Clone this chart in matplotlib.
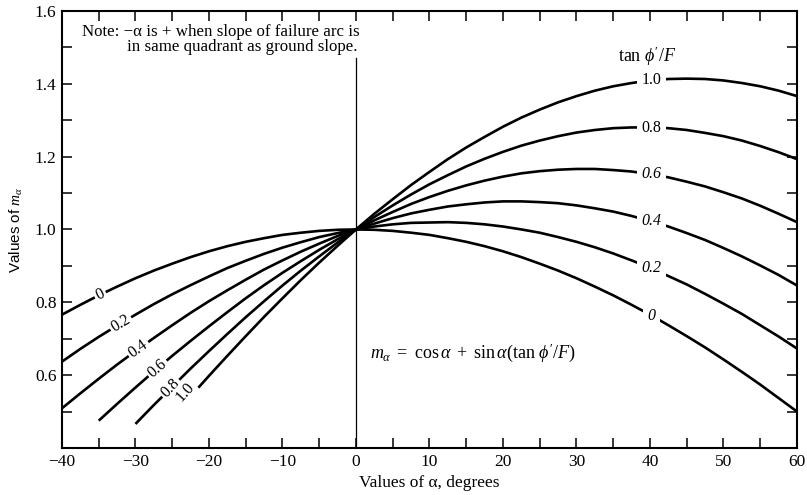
import numpy as np
import matplotlib
matplotlib.use("Agg")
import matplotlib.pyplot as plt

plt.rcParams["font.family"] = ["Liberation Serif", "DejaVu Serif"]
plt.rcParams["mathtext.fontset"] = "custom"
plt.rcParams["mathtext.rm"] = "Liberation Serif"
plt.rcParams["mathtext.it"] = "Liberation Serif:italic"

# values of m_alpha every 2.5 degrees, one list per tan(phi')/F
alpha = [-40, -37.5, -35, -32.5, -30, -27.5, -25, -22.5, -20, -17.5, -15, -12.5, -10, -7.5, -5, -2.5,
         0, 2.5, 5, 7.5, 10, 12.5, 15, 17.5, 20, 22.5, 25, 27.5, 30, 32.5, 35, 37.5, 40, 42.5,
         45, 47.5, 50, 52.5, 55, 57.5, 60]
m_00 = [0.766, 0.793, 0.819, 0.843, 0.866, 0.887, 0.906, 0.924, 0.940, 0.954, 0.966, 0.976, 0.985,
        0.991, 0.996, 0.999, 1.000, 0.999, 0.996, 0.991, 0.985, 0.976, 0.966, 0.954, 0.940, 0.924,
        0.906, 0.887, 0.866, 0.843, 0.819, 0.793, 0.766, 0.737, 0.707, 0.676, 0.643, 0.609, 0.574,
        0.537, 0.500]
m_02 = [0.637, 0.672, 0.705, 0.736, 0.766, 0.795, 0.822, 0.847, 0.871, 0.894, 0.914, 0.933, 0.950,
        0.965, 0.979, 0.990, 1.000, 1.008, 1.014, 1.018, 1.019, 1.020, 1.018, 1.014, 1.008, 1.000,
        0.991, 0.979, 0.966, 0.951, 0.934, 0.915, 0.895, 0.872, 0.849, 0.823, 0.796, 0.768, 0.737,
        0.706, 0.673]
m_04 = [0.509, 0.550, 0.590, 0.629, 0.666, 0.702, 0.737, 0.771, 0.803, 0.833, 0.862, 0.890, 0.915,
        0.939, 0.961, 0.982, 1.000, 1.016, 1.031, 1.044, 1.054, 1.063, 1.069, 1.074, 1.077, 1.077,
        1.075, 1.072, 1.066, 1.058, 1.049, 1.037, 1.023, 1.008, 0.990, 0.971, 0.949, 0.926, 0.901,
        0.875, 0.846]
alpha_06 = alpha[2:]
m_06 = [0.475, 0.521, 0.566, 0.610, 0.653, 0.694, 0.734, 0.773, 0.811, 0.847, 0.881, 0.913, 0.944,
        0.973, 1.000, 1.025, 1.048, 1.070, 1.089, 1.106, 1.121, 1.134, 1.145, 1.154, 1.160, 1.164,
        1.166, 1.166, 1.163, 1.159, 1.152, 1.143, 1.131, 1.118, 1.102, 1.085, 1.065, 1.043, 1.020]
alpha_08 = alpha[4:]
m_08 = [0.466, 0.518, 0.568, 0.618, 0.666, 0.713, 0.759, 0.803, 0.846, 0.887, 0.926, 0.964, 1.000,
        1.034, 1.066, 1.096, 1.124, 1.149, 1.173, 1.194, 1.213, 1.230, 1.244, 1.256, 1.266, 1.273,
        1.278, 1.280, 1.280, 1.278, 1.273, 1.265, 1.256, 1.244, 1.229, 1.212, 1.193]
alpha_10 = [-22] + alpha[8:]
m_10 = [0.553, 0.598, 0.653, 0.707, 0.760, 0.811, 0.861, 0.909, 0.955, 1.000, 1.043, 1.083, 1.122,
        1.158, 1.193, 1.225, 1.254, 1.282, 1.307, 1.329, 1.349, 1.366, 1.381, 1.393, 1.402, 1.409,
        1.413, 1.414, 1.413, 1.409, 1.402, 1.393, 1.381, 1.366]

curves = [
    ("0", alpha, m_00, -34.8),
    ("0.2", alpha, m_02, -32.0),
    ("0.4", alpha, m_04, -29.6),
    ("0.6", alpha_06, m_06, -27.0),
    ("0.8", alpha_08, m_08, -25.2),
    ("1.0", alpha_10, m_10, -23.2),
]
right_label_alpha = 40.2

fig = plt.figure(figsize=(8.07, 4.95), dpi=100)
ax = fig.add_axes([0.0768, 0.095, 0.9108, 0.883])

for name, a, m, left_a in curves:
    a = np.array(a, dtype=float)
    m = np.array(m, dtype=float)
    ax.plot(a, m, color="black", lw=1.9, solid_capstyle="butt", solid_joinstyle="round", zorder=2)
    # label on the left, turned along the curve
    slope = np.interp(left_a, a, np.gradient(m, a))
    ax.text(left_a, np.interp(left_a, a, m), name, fontsize=11.5, ha="center", va="center",
            rotation=np.degrees(np.arctan(slope)), transform_rotates_text=True,
            rotation_mode="anchor", zorder=3,
            bbox=dict(facecolor="white", edgecolor="none", pad=1.5))
    # label on the right, upright
    style = "normal" if name in ("1.0", "0.8") else "italic"
    ax.text(right_label_alpha, np.interp(right_label_alpha, a, m), name, fontsize=11.5,
            ha="center", va="center", style=style, zorder=3,
            bbox=dict(facecolor="white", edgecolor="none", pad=3.5))

ax.plot([0, 0], [0.4, 1.47], color="black", lw=0.9, zorder=1)

ax.text(39.6, 1.474, r"$\mathrm{tan}\ \phi'/F$", fontsize=13, ha="center", va="center")
ax.text(-37.3, 1.543, "Note: \u2212\u03b1 is + when slope of failure arc is", fontsize=12.2,
        ha="left", va="center")
ax.text(-31.2, 1.500, "in same quadrant as ground slope.", fontsize=12.2, ha="left", va="center")
ax.text(1.9, 0.661, r"$m_\alpha\ =\ \mathrm{cos}\,\alpha\ +\ \mathrm{sin}\,\alpha(\mathrm{tan}\ \phi'/F)$",
        fontsize=13, ha="left", va="center")

ax.set_xlim(-40, 60)
ax.set_ylim(0.4, 1.6)
xt = np.arange(-40, 61, 5)
ax.set_xticks(xt)
ax.set_xticklabels([str(v).replace("-", "\u2212") if v % 10 == 0 else "" for v in xt])
yt = np.round(np.arange(0.4, 1.61, 0.1), 1)
ax.set_yticks(yt)
ax.set_yticklabels(["%.1f" % v if (round(v * 10) % 2 == 0 and v > 0.45) else "" for v in yt])
ax.tick_params(direction="in", top=True, right=True, length=7, width=1.1, labelsize=12.5, pad=4)
for s in ax.spines.values():
    s.set_linewidth(1.5)

ax.set_xlabel("Values of \u03b1, degrees", fontsize=12.5, labelpad=4)
ax.set_ylabel(r"Values of $m_\alpha$", fontsize=11, fontfamily="Liberation Sans", labelpad=7)

fig.savefig("out.png", dpi=100)
